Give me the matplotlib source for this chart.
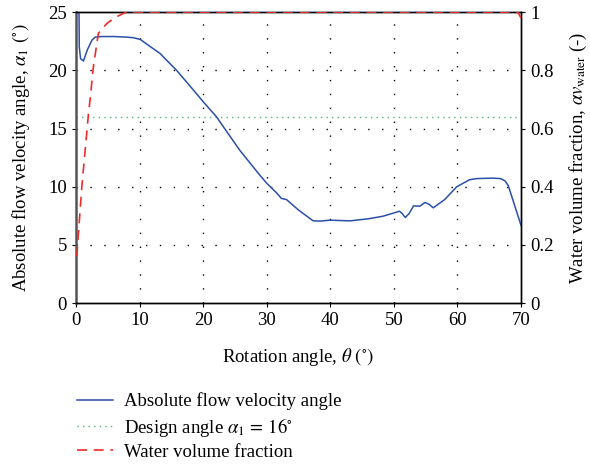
import matplotlib.pyplot as plt
from matplotlib.lines import Line2D

# absolute flow velocity angle along the rotation
theta = [0.45, 0.5, 0.7, 1.15, 1.8, 2.5, 3.0, 4, 6, 8, 9, 10.1, 11.5, 13.2, 15.8,
         18, 20, 22.1, 24, 25.8, 28.9, 30, 31.5, 32.3, 33.1, 35, 37.3, 38.5, 39.9,
         43.1, 46, 48.3, 50.3, 50.9, 51.3, 51.8, 52.4, 53.1, 54.1, 54.9, 55.5, 56.2,
         58, 59.9, 61.9, 63, 65.6, 66.8, 67.5, 68.0, 70]
alpha1 = [25.5, 22, 21.0, 20.8, 21.8, 22.6, 22.85, 22.9, 22.9, 22.85, 22.8, 22.65,
          22.1, 21.45, 20.0, 18.6, 17.3, 16.0, 14.5, 13.1, 11.0, 10.3, 9.5, 9.0, 8.9,
          8.0, 7.07, 7.05, 7.13, 7.07, 7.25, 7.47, 7.8, 7.9, 7.7, 7.36, 7.7, 8.36,
          8.33, 8.65, 8.5, 8.19, 8.9, 10.0, 10.6, 10.7, 10.74, 10.7, 10.5, 10.1, 6.7]

# water volume fraction
theta_w = [0.1, 0.5, 0.9, 1.4, 1.9, 2.3, 2.7, 3.5, 4.8, 6, 7.4, 8.0, 69.5, 70]
water = [0.16, 0.28, 0.4, 0.52, 0.64, 0.72, 0.81, 0.927, 0.96, 0.98, 0.995, 1.0,
         1.0, 0.98]

design_angle = 16

plt.rcParams['font.family'] = 'Liberation Serif'
plt.rcParams['mathtext.fontset'] = 'stix'
plt.rcParams['font.size'] = 13.5
plt.rcParams['xtick.direction'] = 'out'
plt.rcParams['ytick.direction'] = 'out'

blue = '#2b4fa8'
red = '#ee2b2b'
green = '#4cbb78'

fig = plt.figure(figsize=(5.9, 4.65), dpi=100)
ax = fig.add_axes([0.129, 0.348, 0.754, 0.626])
ax2 = ax.twinx()

# dotted grid
for xv in range(10, 70, 10):
    ax.axvline(xv, color='k', lw=1.0, linestyle=(0, (1, 9)), zorder=0)
for yv in range(5, 25, 5):
    ax.axhline(yv, color='k', lw=1.0, linestyle=(0, (1, 9)), zorder=0)

ax.plot(theta, alpha1, color=blue, lw=1.1, zorder=3)
ax.axhline(design_angle, color=green, lw=1.0, linestyle=(0, (1, 3)), zorder=2)
ax2.plot(theta_w, water, color=red, lw=1.2, linestyle=(0, (6, 4)), zorder=3)

ax.set_xlim(0, 70)
ax.set_ylim(0, 25)
ax2.set_ylim(0, 1)
ax.set_xticks(range(0, 80, 10))
ax.set_yticks(range(0, 30, 5))
ax2.set_yticks([0, 0.2, 0.4, 0.6, 0.8, 1])
ax2.set_yticklabels(['0', '0.2', '0.4', '0.6', '0.8', '1'])

for a in (ax, ax2):
    a.tick_params(length=3, width=0.8, labelsize=13.5)
    for s in a.spines.values():
        s.set_linewidth(1.0)
ax.spines['left'].set_linewidth(1.8)
ax.spines['left'].set_color('#555555')
ax2.spines['left'].set_visible(False)

ax.set_xlabel(r'Rotation angle, $\theta$ $(^{\circ})$', labelpad=12)
ax.set_ylabel(r'Absolute flow velocity angle, $\alpha_1$ $(^{\circ})$', labelpad=12)
ax2.set_ylabel(r'Water volume fraction, $\alpha v_{\mathrm{water}}$ (-)', labelpad=10)

handles = [Line2D([], [], color=blue, lw=1.1),
           Line2D([], [], color=green, lw=1.0, linestyle=(0, (1, 3))),
           Line2D([], [], color=red, lw=1.2, linestyle=(0, (6, 4)))]
labels = ['Absolute flow velocity angle',
          r'Design angle $\alpha_1\, =\, 16^{\circ}$',
          'Water volume fraction']
fig.legend(handles, labels, loc='upper left', bbox_to_anchor=(0.118, 0.172),
           frameon=False, handlelength=1.9, handletextpad=0.6,
           labelspacing=0.28, borderaxespad=0)

plt.savefig('out.png', dpi=100)
